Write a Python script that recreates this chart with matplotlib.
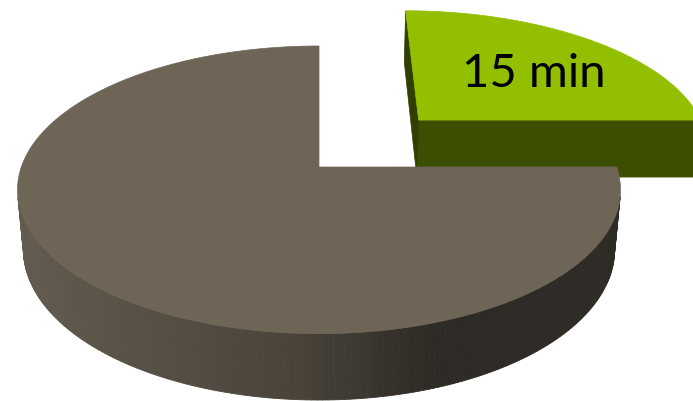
import numpy as np
import matplotlib
matplotlib.use('Agg')
import matplotlib.pyplot as plt
from matplotlib.patches import Polygon

# pie data (minutes)
minutes = [15, 45]
labels = ['15 min', '']
top_colors = ['#92c000', '#6e6557']
explode = [0.5, 0.0]

# simple perspective camera
phi = np.radians(28.1)
s, c = np.sin(phi), np.cos(phi)
D = 5.56
F = 1655.0
u0, v0 = 319.0, 167.0
h = 0.23  # thickness of the pie
cam = np.array([0.0, -D * c, D * s])


def proj(X, Y, Z):
    X, Y, Z = np.asarray(X, float), np.asarray(Y, float), np.asarray(Z, float)
    yc = Y * s + Z * c
    zc = Y * c - Z * s + D
    return u0 + F * X / zc, v0 - F * yc / zc


def to_rgb(hexc):
    return np.array(matplotlib.colors.to_rgb(hexc))


def side_factor(u):
    # lighter on the left, darker to the right
    return np.interp(u, [20, 300, 430, 700], [0.90, 0.66, 0.42, 0.42])


fig = plt.figure(figsize=(6.93, 4.01), dpi=100)
ax = fig.add_axes([0, 0, 1, 1])
ax.set_xlim(0, 693)
ax.set_ylim(401, 0)
ax.axis('off')

total = sum(minutes)
start = 90.0
slices = []
for val, lab, col, ex in zip(minutes, labels, top_colors, explode):
    th2 = start
    th1 = start - val / total * 360.0
    start = th1
    mid = np.radians((th1 + th2) / 2)
    ox, oy = ex * np.cos(mid), ex * np.sin(mid)
    slices.append((th1, th2, mid, ox, oy, lab, col))

# back slices first
slices.sort(key=lambda t: -(t[4] + 0.5 * np.sin(t[2])))

for th1, th2, mid, ox, oy, lab, col in slices:
    base = to_rgb(col)
    th = np.radians(np.linspace(th1, th2, 300))
    px, py = ox + np.cos(th), oy + np.sin(th)

    # outer side (only the part facing the camera)
    for i in range(len(th) - 1):
        tm = (th[i] + th[i + 1]) / 2
        n = np.array([np.cos(tm), np.sin(tm)])
        p = np.array([ox + np.cos(tm), oy + np.sin(tm)])
        if np.dot(cam[:2] - p, n) <= 0:
            continue
        xs = [px[i], px[i + 1], px[i + 1], px[i]]
        ys = [py[i], py[i + 1], py[i + 1], py[i]]
        zs = [0, 0, -h, -h]
        uu, vv = proj(xs, ys, zs)
        f = side_factor(uu.mean())
        ax.add_patch(Polygon(np.c_[uu, vv], closed=True, fc=base * f,
                             ec=base * f, lw=0.6))

    # cut faces
    for ang, sign in ((th1, 1), (th2, -1)):
        a = np.radians(ang)
        n = sign * np.array([np.sin(a), -np.cos(a)])
        if np.dot(cam[:2] - np.array([ox, oy]), n) <= 1e-6:
            continue
        xs = [ox, ox + np.cos(a), ox + np.cos(a), ox]
        ys = [oy, oy + np.sin(a), oy + np.sin(a), oy]
        zs = [0, 0, -h, -h]
        uu, vv = proj(xs, ys, zs)
        f = 0.41 if abs(n[1]) > abs(n[0]) else 0.33
        ax.add_patch(Polygon(np.c_[uu, vv], closed=True, fc=base * f,
                             ec=base * f, lw=0.5))

    # top face
    tx = np.r_[ox, px]
    ty = np.r_[oy, py]
    uu, vv = proj(tx, ty, np.zeros_like(tx))
    ax.add_patch(Polygon(np.c_[uu, vv], closed=True, fc=base, ec=base, lw=0.5))

    if lab:
        r = 0.62
        lu, lv = proj(ox + r * np.cos(mid), oy + r * np.sin(mid), 0)
        ax.annotate(lab, (lu, lv), xytext=(4, -4), textcoords='offset points',
                    ha='center', va='center', fontsize=34,
                    family='Lato', color='black')

fig.savefig('out.png', dpi=100)
